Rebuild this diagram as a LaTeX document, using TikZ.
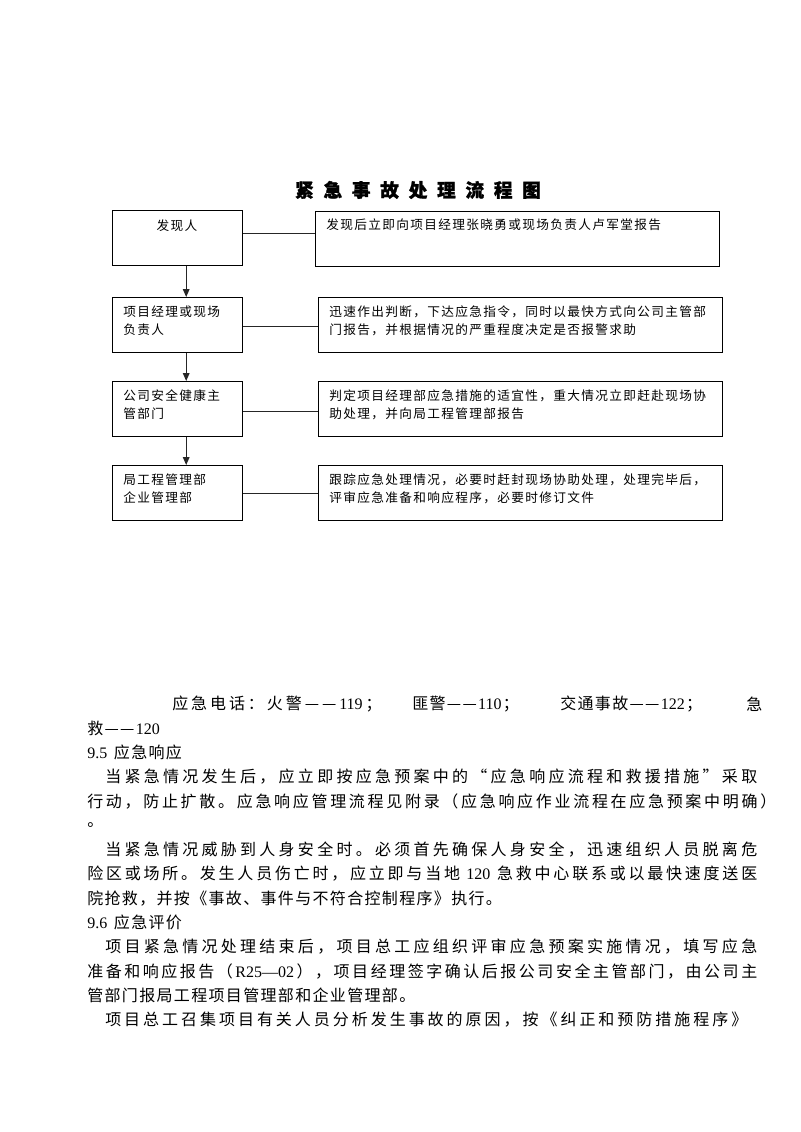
\documentclass[tikz,border=0pt]{standalone}
\usepackage{fontspec}
\setmainfont{Noto Sans CJK SC}
\newfontfamily\lat{Liberation Serif}
\usetikzlibrary{arrows.meta}
\makeatletter
\newskip\cjkgap
\def\cjksp@end{\cjksp@end}
\def\cjksp#1{\cjksp@first#1\cjksp@end}
\def\cjksp@first#1{{#1}\cjksp@loop}
\def\cjksp@loop#1{\ifx\cjksp@end#1\else\hskip\cjkgap{#1}\expandafter\cjksp@loop\fi}
\makeatother
\newcommand\jline[2]{\hbox to #1{\cjkgap=0pt plus 1fil\relax\cjksp{#2}}}
\newcommand\nline[1]{\cjkgap=1pt\relax\cjksp{#1}}
\begin{document}
\begin{tikzpicture}[x=0.75pt,y=-0.75pt,
  box/.style={draw=black, line width=0.8pt, inner sep=0pt, anchor=north west},
  lbox/.style={box, minimum width=97.5pt, minimum height=41.25pt},
  rbox/.style={box, minimum width=303pt, minimum height=41.25pt},
  txt/.style={inner sep=0pt, anchor=west, font=\fontsize{9.5pt}{11pt}\selectfont},
  body/.style={inner sep=0pt, anchor=west, font=\fontsize{12pt}{14pt}\selectfont},
  conn/.style={line width=0.8pt, draw=black!85},
  arr/.style={conn, -{Triangle[length=6pt,width=5pt]}}]
\useasboundingbox[fill=white] (0,0) rectangle (800,1132);

% title
\node[inner sep=0pt, font=\fontsize{14pt}{16pt}\selectfont\bfseries\addfontfeature{FakeBold=1.2}] (title) at (418,190)
  {\cjkgap=7.3pt\relax\cjksp{紧急事故处理流程图}};

% left boxes
\node[lbox] (b1) at (112,210) {};
\node[lbox] (b2) at (112,297) {};
\node[lbox] (b3) at (112,381) {};
\node[lbox] (b4) at (112,465) {};
% right boxes
\node[rbox] (r1) at (315,211) {};
\node[rbox] (r2) at (318,297) {};
\node[rbox] (r3) at (318,381) {};
\node[rbox] (r4) at (318,465) {};

% left texts
\node[txt, anchor=center] (b1t) at (177,226) {\nline{发现人}};
\node[txt] (b2a) at (123,312) {\nline{项目经理或现场}};
\node[txt] (b2b) at (123,330) {\nline{负责人}};
\node[txt] (b3a) at (123,396) {\nline{公司安全健康主}};
\node[txt] (b3b) at (123,414) {\nline{管部门}};
\node[txt] (b4a) at (123,480) {\nline{局工程管理部}};
\node[txt] (b4b) at (123,498) {\nline{企业管理部}};

% right texts
\node[txt] (r1a) at (326,225) {\nline{发现后立即向项目经理张晓勇或现场负责人卢军堂报告}};
\node[txt] (r2a) at (329,312) {\nline{迅速作出判断，下达应急指令，同时以最快方式向公司主管部}};
\node[txt] (r2b) at (329,330) {\nline{门报告，并根据情况的严重程度决定是否报警求助}};
\node[txt] (r3a) at (329,396) {\nline{判定项目经理部应急措施的适宜性，重大情况立即赶赴现场协}};
\node[txt] (r3b) at (329,414) {\nline{助处理，并向局工程管理部报告}};
\node[txt] (r4a) at (329,480) {\nline{跟踪应急处理情况，必要时赶封现场协助处理，处理完毕后，}};
\node[txt] (r4b) at (329,498) {\nline{评审应急准备和响应程序，必要时修订文件}};

% connectors
\draw[conn] ([yshift=3.4pt]b1.east) -- ([yshift=3.4pt]b1.east -| r1.west);
\draw[conn] ([yshift=-1.1pt]b2.east) -- ([yshift=-1.1pt]b2.east -| r2.west);
\draw[conn] ([yshift=-1.6pt]b3.east) -- ([yshift=-1.6pt]b3.east -| r3.west);
\draw[conn] (b4.east) -- (b4.east -| r4.west);
\draw[arr] ([xshift=6.5pt]b1.south) -- ([xshift=6.5pt]b2.north);
\draw[arr] ([xshift=6.5pt]b2.south) -- ([xshift=6.5pt]b3.north);
\draw[arr] ([xshift=6.5pt]b3.south) -- ([xshift=6.5pt]b4.north);

% body text
\node[body] (p0a) at (172,704) {\cjkgap=2.2pt\relax\cjksp{应急电话：火警——{\lat 119}；}};
\node[body] (p0b) at (412,704) {\nline{匪警——{\lat 110}；}};
\node[body] (p0c) at (560,704) {\nline{交通事故——{\lat 122}；}};
\node[body] (p0d) at (746,704) {急};
\node[body] (p1) at (87,728) {\nline{救——{\lat 120}}};
\node[body] (p2) at (87,752.5) {{\lat 9.5}\hspace{5pt}\nline{应急响应}};
\node[body] (p3) at (105,777) {\jline{489pt}{当紧急情况发生后，应立即按应急预案中的“应急响应流程和救援措施”采取}};
\node[body] (p4) at (87,801) {\jline{516.75pt}{行动，防止扩散。应急响应管理流程见附录（应急响应作业流程在应急预案中明确）}};
\node[body] (p5) at (87,825.5) {。};
\node[body] (p6) at (105,850) {\jline{489pt}{当紧急情况威胁到人身安全时。必须首先确保人身安全，迅速组织人员脱离危}};
\node[body] (p7) at (87,874) {\jline{502.5pt}{险区或场所。发生人员伤亡时，应立即与当地{\ \lat 120\ }急救中心联系或以最快速度送医}};
\node[body] (p8) at (87,898.5) {\nline{院抢救，并按《事故、事件与不符合控制程序》执行。}};
\node[body] (p9) at (87,922.5) {{\lat 9.6}\hspace{5pt}\nline{应急评价}};
\node[body] (p10) at (105,947) {\jline{489pt}{项目紧急情况处理结束后，项目总工应组织评审应急预案实施情况，填写应急}};
\node[body] (p11) at (87,971) {\jline{502.5pt}{准备和响应报告（{\lat R25—02}），项目经理签字确认后报公司安全主管部门，由公司主}};
\node[body] (p12) at (87,995.5) {\nline{管部门报局工程项目管理部和企业管理部。}};
\node[body] (p13) at (105,1020) {\jline{481.5pt}{项目总工召集项目有关人员分析发生事故的原因，按《纠正和预防措施程序》}};
\end{tikzpicture}
\end{document}
